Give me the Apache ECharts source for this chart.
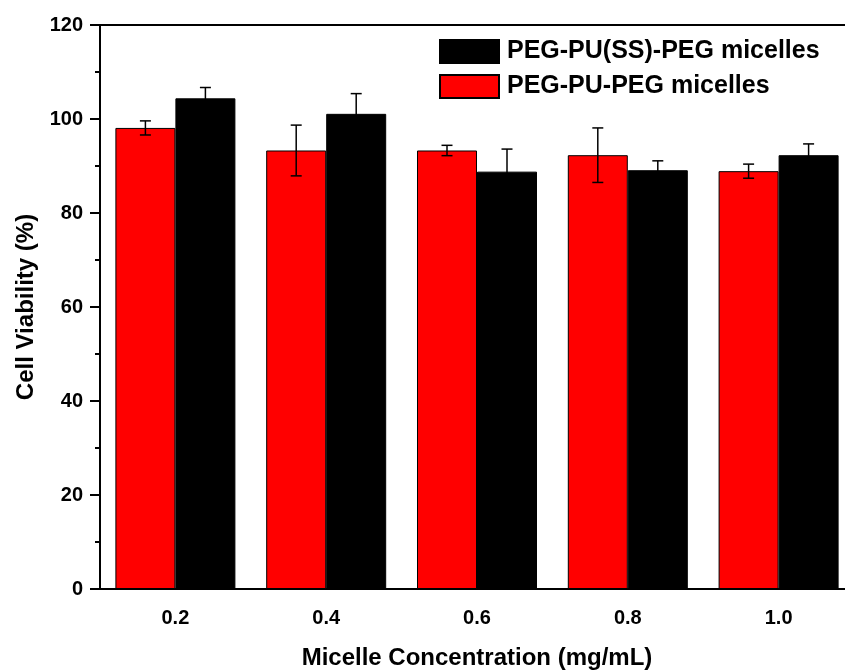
<!DOCTYPE html>
<html>
<head>
<meta charset="utf-8">
<script src="https://cdn.jsdelivr.net/npm/echarts@6/dist/echarts.min.js"></script>
<style>
  html, body { margin: 0; padding: 0; background: #fff; }
  #chart-container { width: 845px; height: 671px; }
</style>
</head>
<body>
<div id="chart-container"></div>
<script>
// concentrations (mg/mL)
var concentrations = ['0.2', '0.4', '0.6', '0.8', '1.0'];
// cell viability (%) and error
var pegPuPeg = [98.1, 93.3, 93.3, 92.3, 88.9];
var pegPuPegErr = [1.5, 5.4, 1.1, 5.8, 1.5];
var pegPuSsPeg = [104.4, 101.1, 88.8, 89.1, 92.3];
var pegPuSsPegErr = [2.3, 4.3, 4.8, 2.0, 2.4];
var yTicks = [0, 20, 40, 60, 80, 100, 120];

var FONT = 'Liberation Sans, Arial, sans-serif';
var BAR_W = 60;

function errData(vals, errs) {
    var out = [];
    for (var i = 0; i < vals.length; i++) {
        out.push([i, vals[i] + errs[i], vals[i] - errs[i]]);
    }
    return out;
}

function errRender(shift) {
    return function (params, api) {
        var hi = api.coord([api.value(0), api.value(1)]);
        var lo = api.coord([api.value(0), api.value(2)]);
        var x = hi[0] + shift;
        var cap = 5.5;
        var st = { stroke: '#000', lineWidth: 1.5 };
        return {
            type: 'group',
            children: [
                { type: 'line', shape: { x1: x, y1: hi[1], x2: x, y2: lo[1] }, style: st },
                { type: 'line', shape: { x1: x - cap, y1: hi[1], x2: x + cap, y2: hi[1] }, style: st },
                { type: 'line', shape: { x1: x - cap, y1: lo[1], x2: x + cap, y2: lo[1] }, style: st }
            ]
        };
    };
}

var chart = echarts.init(document.getElementById('chart-container'));
var axisLineStyle = { color: '#000', width: 2 };

var option = {
    animation: false,
    textStyle: { fontFamily: FONT },
    // plot runs off the right edge like the original figure
    grid: { left: 100, width: 754, top: 25, bottom: 82, outerBoundsMode: 'none', containLabel: false },
    legend: {
        left: 439,
        top: 39,
        padding: 0,
        orient: 'vertical',
        itemWidth: 59,
        itemHeight: 23,
        itemGap: 10,
        icon: 'rect',
        data: ['PEG-PU(SS)-PEG micelles', 'PEG-PU-PEG micelles'],
        textStyle: { fontFamily: FONT, fontWeight: 'bold', fontSize: 25, color: '#000', padding: [0, 0, 0, 3] }
    },
    xAxis: [
        {
            type: 'category',
            position: 'bottom',
            data: concentrations,
            boundaryGap: true,
            axisLine: { lineStyle: axisLineStyle },
            axisTick: { length: 4, lineStyle: { color: '#000', width: 2 } },
            axisLabel: { fontFamily: FONT, fontWeight: 'bold', fontSize: 20, color: '#000', margin: 19, interval: 0 },
            name: 'Micelle Concentration (mg/mL)',
            nameLocation: 'middle',
            nameGap: 57,
            nameTextStyle: { fontFamily: FONT, fontWeight: 'bold', fontSize: 24, color: '#000' }
        },
        {
            type: 'category',
            position: 'bottom',
            data: concentrations,
            axisLine: { show: false },
            axisTick: { alignWithLabel: true, length: 9, interval: 0, lineStyle: { color: '#000', width: 2 } },
            axisLabel: { show: false }
        },
        {
            type: 'category',
            position: 'top',
            data: concentrations,
            axisLine: { lineStyle: axisLineStyle },
            axisTick: { inside: true, length: 3, lineStyle: { color: '#000', width: 1.5 } },
            axisLabel: { show: false }
        },
        {
            type: 'category',
            position: 'top',
            data: concentrations,
            axisLine: { show: false },
            axisTick: { inside: true, alignWithLabel: true, interval: 0, length: 3, lineStyle: { color: '#000', width: 1.5 } },
            axisLabel: { show: false }
        }
    ],
    yAxis: {
        type: 'value',
        min: yTicks[0],
        max: yTicks[yTicks.length - 1],
        interval: 20,
        axisLine: { show: true, lineStyle: axisLineStyle },
        axisTick: { show: true, length: 10, lineStyle: { color: '#000', width: 2 } },
        minorTick: { show: true, splitNumber: 2, length: 5, lineStyle: { color: '#000', width: 2 } },
        splitLine: { show: false },
        axisLabel: { fontFamily: FONT, fontWeight: 'bold', fontSize: 20, color: '#000', margin: 17 },
        name: 'Cell Viability (%)',
        nameLocation: 'middle',
        nameGap: 62,
        nameTextStyle: { fontFamily: FONT, fontWeight: 'bold', fontSize: 24, color: '#000' }
    },
    series: [
        {
            name: 'PEG-PU-PEG micelles',
            type: 'bar',
            barWidth: BAR_W,
            barGap: '0%',
            itemStyle: { color: '#ff0000', borderColor: '#000', borderWidth: 1 },
            data: pegPuPeg
        },
        {
            name: 'PEG-PU(SS)-PEG micelles',
            type: 'bar',
            barWidth: BAR_W,
            barGap: '0%',
            itemStyle: { color: '#000', borderColor: '#000', borderWidth: 1 },
            data: pegPuSsPeg
        },
        {
            type: 'custom',
            renderItem: errRender(-BAR_W / 2),
            encode: { x: 0, y: [1, 2] },
            z: 5,
            data: errData(pegPuPeg, pegPuPegErr)
        },
        {
            type: 'custom',
            renderItem: errRender(BAR_W / 2),
            encode: { x: 0, y: [1, 2] },
            z: 5,
            data: errData(pegPuSsPeg, pegPuSsPegErr)
        }
    ]
};
chart.setOption(option);
window.addEventListener('resize', chart.resize);
</script>
</body>
</html>
